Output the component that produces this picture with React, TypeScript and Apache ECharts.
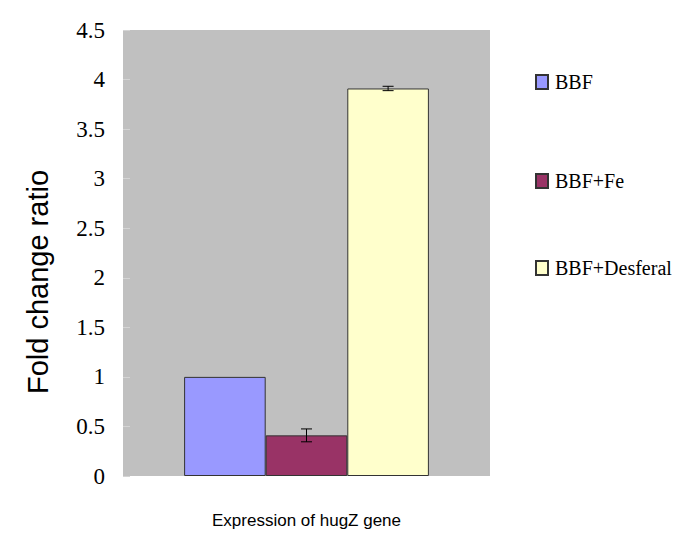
import React, { useEffect, useRef } from "react";
import * as echarts from "echarts";

const categories = ["Expression of hugZ gene"];
const seriesNames = ["BBF", "BBF+Fe", "BBF+Desferal"];
const seriesValues = [1.0, 0.41, 3.91];
const seriesErrors = [0, 0.065, 0.022];
const seriesColors = ["#9999FF", "#993366", "#FFFFCC"];
const yTicks = ["0", "0.5", "1", "1.5", "2", "2.5", "3", "3.5", "4", "4.5"];
const yTitle = "Fold change ratio";
const legendTops = [59, 158, 245];

export default function App() {
  const ref = useRef<HTMLDivElement>(null);
  useEffect(() => {
    if (!ref.current) return;
    const chart = echarts.init(ref.current, null, { renderer: "svg" });
    const gapRatio = 0.333;
    const barSeries = seriesNames.map((name, i) => ({
      name,
      type: "bar",
      data: [seriesValues[i]],
      barGap: "0%",
      barCategoryGap: "33.3%",
      itemStyle: { color: seriesColors[i], borderColor: "#333", borderWidth: 1 },
    }));
    const errData = seriesValues
      .map((v, i) => [0, v, seriesErrors[i], i])
      .filter((d) => d[2] > 0);
    const legends = seriesNames.map((name, i) => ({
      orient: "vertical",
      left: 522,
      top: legendTops[i],
      itemWidth: 12,
      itemHeight: 14,
      itemGap: 0,
      icon: "rect",
      data: [name],
      selectedMode: false,
      textStyle: { fontFamily: "Liberation Serif", fontSize: 20, color: "#000", padding: [0, 0, 0, 2] },
    }));
    const option = {
      animation: false,
      textStyle: { fontFamily: "Liberation Serif" },
      grid: {
        left: 115,
        top: 22,
        width: 367,
        height: 446,
        show: true,
        backgroundColor: "#C0C0C0",
        borderWidth: 0,
      },
      legend: legends,
      graphic: [
        {
          type: "text",
          x: 30,
          y: 274,
          rotation: Math.PI / 2,
          style: {
            text: yTitle,
            fontFamily: "Liberation Sans",
            fontSize: 29,
            fill: "#000",
            textAlign: "center",
            textVerticalAlign: "middle",
          },
        },
      ],
      xAxis: {
        type: "category",
        data: categories,
        axisLine: { show: false },
        axisTick: { show: false },
        axisLabel: {
          fontFamily: "Liberation Sans",
          fontSize: 17,
          color: "#000",
          margin: 36,
        },
      },
      yAxis: {
        type: "value",
        min: 0,
        max: 4.5,
        interval: 0.5,
        axisLine: { show: false },
        axisTick: { show: true, inside: true, length: 7, lineStyle: { color: "#d4d4d4" } },
        splitLine: { show: false },
        axisLabel: {
          fontFamily: "Liberation Serif",
          fontSize: 23,
          color: "#000",
          margin: 18,
          formatter: (v: number) => {
            const idx = Math.round(v / 0.5);
            return yTicks[idx] ?? String(v);
          },
        },
      },
      series: [
        ...barSeries,
        {
          type: "custom",
          name: "err",
          data: errData,
          z: 10,
          renderItem: (params: any, api: any) => {
            const cat = api.value(0);
            const v = api.value(1);
            const e = api.value(2);
            const idx = api.value(3);
            const bandW = api.size([1, 0])[0];
            const barW = (bandW * (1 - gapRatio)) / 3;
            const center = api.coord([cat, v]);
            const x = center[0] + (idx - 1) * barW;
            const top = api.coord([cat, v + e])[1];
            const bot = api.coord([cat, v - e])[1];
            const hw = 5.5;
            const style = { stroke: "#000", lineWidth: 1 };
            return {
              type: "group",
              children: [
                { type: "line", shape: { x1: x, y1: top, x2: x, y2: bot }, style },
                { type: "line", shape: { x1: x - hw, y1: top, x2: x + hw, y2: top }, style },
                { type: "line", shape: { x1: x - hw, y1: bot, x2: x + hw, y2: bot }, style },
              ],
            };
          },
        },
      ],
    };
    chart.setOption(option as any);
    return () => chart.dispose();
  }, []);
  return <div ref={ref} style={{ width: 669, height: 544 }} />;
}
